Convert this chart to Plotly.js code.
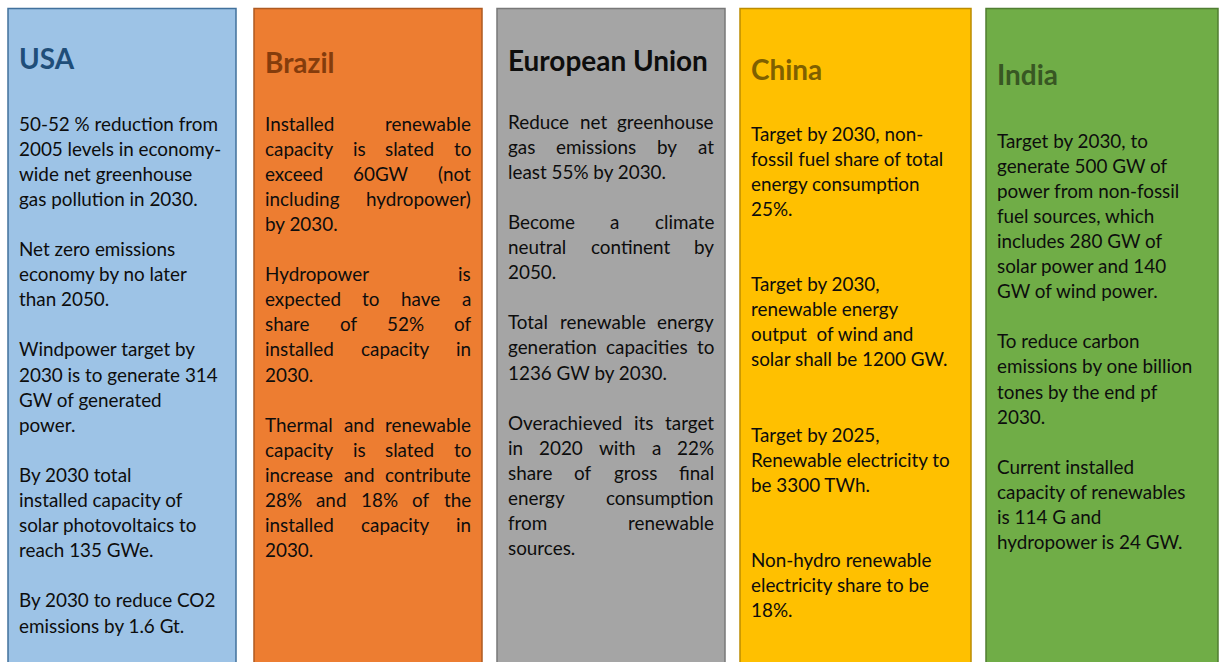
<!DOCTYPE html>
<html>
<head>
<meta charset="utf-8">
<script src="https://cdn.plot.ly/plotly-3.0.1.min.js"></script>
<style>html,body{margin:0;padding:0;background:#fff;}#chart{width:1224px;height:662px;}</style>
</head>
<body>
<div id="chart"></div>
<script>
// ---------- DATA ----------
const countries = ['USA', 'Brazil', 'European Union', 'China', 'India'];

const usaParagraphs = [
  ['50-52 % reduction from', '2005 levels in economy-', 'wide net greenhouse', 'gas pollution in 2030.'],
  ['Net zero emissions', 'economy by no later', 'than 2050.'],
  ['Windpower target by', '2030 is to generate 314', 'GW of generated', 'power.'],
  ['By 2030 total', 'installed capacity of', 'solar photovoltaics to', 'reach 135 GWe.'],
  ['By 2030 to reduce CO2', 'emissions by 1.6 Gt.']
];
const brazilParagraphs = [
  ['Installed renewable', 'capacity is slated to', 'exceed 60GW (not', 'including hydropower)', 'by 2030.'],
  ['Hydropower is', 'expected to have a', 'share of 52% of', 'installed capacity in', '2030.'],
  ['Thermal and renewable', 'capacity is slated to', 'increase and contribute', '28% and 18% of the', 'installed capacity in', '2030.']
];
const euParagraphs = [
  ['Reduce net greenhouse', 'gas emissions by at', 'least 55% by 2030.'],
  ['Become a climate', 'neutral continent by', '2050.'],
  ['Total renewable energy', 'generation capacities to', '1236 GW by 2030.'],
  ['Overachieved its target', 'in 2020 with a 22%', 'share of gross final', 'energy consumption', 'from renewable', 'sources.']
];
const chinaParagraphs = [
  ['Target by 2030, non-', 'fossil fuel share of total', 'energy consumption', '25%.'],
  ['Target by 2030,', 'renewable energy', 'output  of wind and', 'solar shall be 1200 GW.'],
  ['Target by 2025,', 'Renewable electricity to', 'be 3300 TWh.'],
  ['Non-hydro renewable', 'electricity share to be', '18%.']
];
const indiaParagraphs = [
  ['Target by 2030, to', 'generate 500 GW of', 'power from non-fossil', 'fuel sources, which', 'includes 280 GW of', 'solar power and 140', 'GW of wind power.'],
  ['To reduce carbon', 'emissions by one billion', 'tones by the end pf', '2030.'],
  ['Current installed', 'capacity of renewables', 'is 114 G and', 'hydropower is 24 GW.']
];
const panelTexts = [usaParagraphs, brazilParagraphs, euParagraphs, chinaParagraphs, indiaParagraphs];

// ---------- STYLE / LAYOUT ----------
const panelStyle = [
  {x0: 8,   x1: 236,  fill: '#9DC3E6', line: '#41719C', title: '#1F4E79', titleY: 58, bodyY: 123, gap: 1, justify: false},
  {x0: 254, x1: 482,  fill: '#ED7D31', line: '#AE5A21', title: '#843C0C', titleY: 62, bodyY: 123, gap: 1, justify: true},
  {x0: 497, x1: 725,  fill: '#A5A5A5', line: '#787878', title: '#0D0D0D', titleY: 60, bodyY: 121, gap: 1, justify: true},
  {x0: 740, x1: 971,  fill: '#FFC000', line: '#BC8C00', title: '#7F6000', titleY: 69, bodyY: 133, gap: 2, justify: false},
  {x0: 986, x1: 1218, fill: '#70AD47', line: '#507E32', title: '#385723', titleY: 74, bodyY: 140, gap: 1, justify: false}
];
const FONT = 'Lato';
const LINE_H = 25.1;
const PAD_L = 10, PAD_R = 12;

const ctx = document.createElement('canvas').getContext('2d');
function measure(text, size, bold) {
  ctx.font = (bold ? 'bold ' : '') + size + 'px ' + FONT;
  return ctx.measureText(text).width;
}
// size the fonts so that reference strings match the widths in the picture
const bodySize = +(18 * 199 / measure('50-52 % reduction from', 18, false)).toFixed(2);
const titleSize = +(27 * 200 / measure('European Union', 27, true)).toFixed(2);

const shapes = [];
const annotations = [];

countries.forEach((name, i) => {
  const st = panelStyle[i];
  shapes.push({
    type: 'rect', xref: 'x', yref: 'y', layer: 'below',
    x0: st.x0, x1: st.x1, y0: 8.5, y1: 680,
    fillcolor: st.fill, line: {color: st.line, width: 1.5}
  });
  annotations.push({
    text: '<b>' + name + '</b>', x: st.x0 + PAD_L, y: st.titleY,
    xref: 'x', yref: 'y', xanchor: 'left', yanchor: 'middle', showarrow: false,
    borderpad: 0, font: {family: FONT, size: titleSize, color: st.title}
  });
  const left = st.x0 + PAD_L, right = st.x1 - PAD_R;
  let row = 0;
  panelTexts[i].forEach((para, pi) => {
    if (pi > 0) row += st.gap;
    para.forEach((line, li) => {
      const y = st.bodyY + row * LINE_H;
      const words = line.split(/\s+/);
      const isLast = li === para.length - 1;
      if (st.justify && !isLast && words.length > 1) {
        const widths = words.map(wd => measure(wd, bodySize, false));
        const total = widths.reduce((a, b) => a + b, 0);
        const g = (right - left - total) / (words.length - 1);
        let cx = left;
        words.forEach((wd, wi) => {
          annotations.push({
            text: wd, x: cx, y: y, xref: 'x', yref: 'y',
            xanchor: 'left', yanchor: 'middle', showarrow: false, borderpad: 0,
            font: {family: FONT, size: bodySize, color: '#0D0D0D'}
          });
          cx += widths[wi] + g;
        });
      } else {
        annotations.push({
          text: line, x: left, y: y, xref: 'x', yref: 'y',
          xanchor: 'left', yanchor: 'middle', showarrow: false, borderpad: 0,
          font: {family: FONT, size: bodySize, color: '#0D0D0D'}
        });
      }
      row += 1;
    });
  });
});

const layout = {
  width: 1224, height: 662,
  margin: {l: 0, r: 0, t: 0, b: 0},
  paper_bgcolor: '#FFFFFF', plot_bgcolor: '#FFFFFF',
  xaxis: {range: [0, 1224], visible: false, fixedrange: true},
  yaxis: {range: [662, 0], visible: false, fixedrange: true},
  showlegend: false,
  shapes: shapes,
  annotations: annotations
};

Plotly.newPlot('chart', [{x: [], y: [], type: 'scatter', hoverinfo: 'skip'}], layout, {displayModeBar: false, staticPlot: true});
</script>
</body>
</html>
